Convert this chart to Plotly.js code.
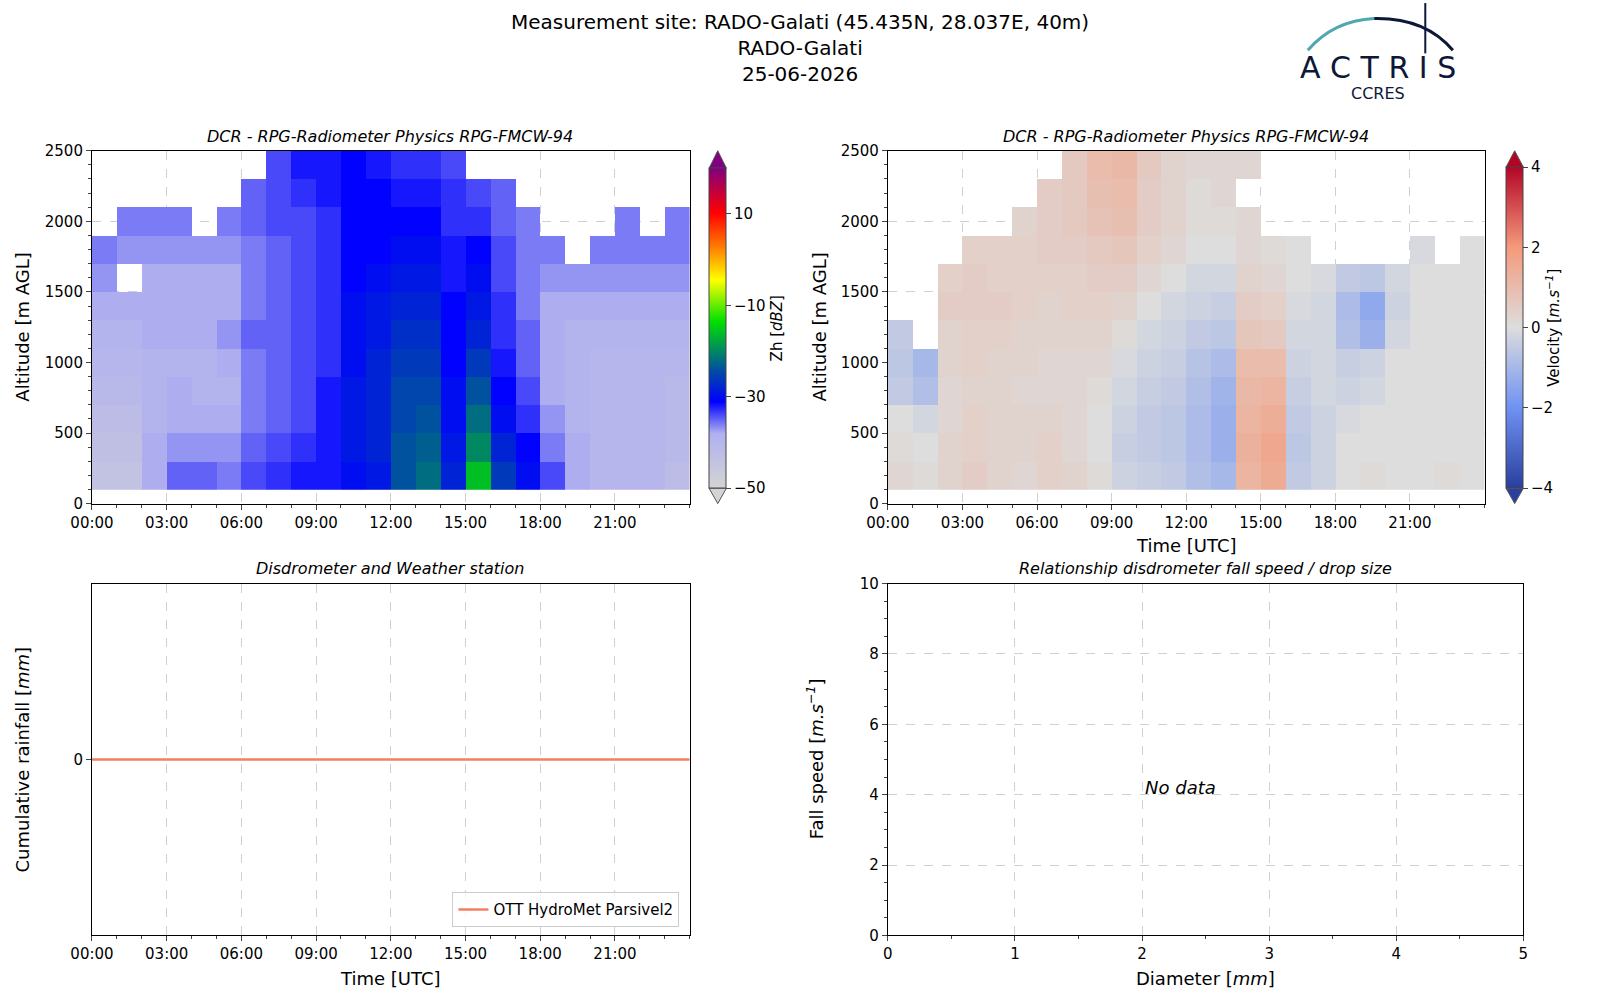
<!DOCTYPE html>
<html>
<head>
<meta charset="utf-8">
<script src="https://cdn.plot.ly/plotly-3.0.1.min.js"></script>
<style>body{margin:0;background:#fff}#plot{width:1600px;height:1000px}</style>
</head>
<body>
<div id="plot"></div>
<script>
// hours of day (cell centers) and altitude cell centers [m]
var hours = [0.5,1.5,2.5,3.5,4.5,5.5,6.5,7.5,8.5,9.5,10.5,11.5,12.5,13.5,14.5,15.5,16.5,17.5,18.5,19.5,20.5,21.5,22.5,23.5];
var heights = [200,400,600,800,1000,1200,1400,1600,1800,2000,2200,2400];
var timeTicks = [0,3,6,9,12,15,18,21];
var timeLabels = ['00:00','03:00','06:00','09:00','12:00','15:00','18:00','21:00'];

// reflectivity Zh [dBZ], one row per altitude (bottom to top)
var zh = [
 [-44,-44,-38,-35,-35,-36,-34,-33,-32,-32,-30,-29,-24,-22,-28,-16,-26,-30,-34,-38,-40,-40,-40,-42],
 [-43,-43,-38,-37,-37,-37,-35,-34,-33,-32,-29,-28,-24,-23,-29,-20,-28,-31,-36,-38,-40,-40,-40,-41],
 [-42,-42,-39,-38,-38,-38,-36,-35,-34,-32,-29,-28,-25,-24,-30,-22,-30,-33,-37,-39,-40,-40,-40,-41],
 [-41,-41,-39,-38,-39,-39,-36,-35,-34,-32,-29,-28,-25,-25,-30,-24,-31,-34,-38,-39,-40,-40,-40,-41],
 [-40,-40,-39,-39,-39,-38,-36,-35,-34,-33,-30,-28,-26,-26,-31,-26,-32,-35,-38,-39,-40,-40,-40,-40],
 [-39,-39,-38,-38,-38,-37,-35,-35,-34,-33,-30,-29,-27,-27,-31,-28,-33,-35,-38,-39,-39,-39,-39,-39],
 [-38,-38,-38,-38,-38,-38,-36,-35,-34,-33,-30,-29,-28,-28,-31,-29,-33,-36,-38,-38,-38,-38,-38,-38],
 [-37,null,-38,-38,-38,-38,-36,-35,-34,-33,-31,-30,-29,-29,-32,-30,-34,-36,-37,-37,-37,-37,-37,-37],
 [-36,-37,-37,-37,-37,-37,-36,-35,-34,-33,-31,-31,-30,-30,-32,-31,-34,-36,-36,null,-36,-36,-36,-36],
 [null,-36,-36,-36,null,-36,-35,-34,-34,-33,-31,-31,-31,-31,-33,-33,-35,-36,null,null,null,-36,null,-36],
 [null,null,null,null,null,null,-35,-34,-33,-32,-31,-31,-32,-32,-33,-34,-35,null,null,null,null,null,null,null],
 [null,null,null,null,null,null,null,-34,-32,-32,-31,-32,-33,-33,-34,null,null,null,null,null,null,null,null,null]
];

// Doppler velocity [m/s]
var vel = [
 [0.2,0.1,0.3,0.5,0.3,0.2,0.4,0.3,0.1,-0.3,-0.4,-0.5,-0.8,-1.0,1.2,1.5,-0.5,-0.3,0.0,0.1,0.0,0.0,0.1,0.0],
 [0.1,0.0,0.3,0.4,0.3,0.3,0.4,0.2,0.0,-0.4,-0.5,-0.6,-0.9,-1.2,1.3,1.6,-0.6,-0.3,0.0,0.0,0.0,0.0,0.0,0.0],
 [0.0,-0.2,0.2,0.4,0.3,0.3,0.3,0.2,0.0,-0.3,-0.5,-0.6,-0.9,-1.2,1.2,1.4,-0.5,-0.3,-0.1,0.0,0.0,0.0,0.0,0.0],
 [-0.5,-0.8,0.2,0.3,0.3,0.2,0.2,0.2,0.1,-0.2,-0.4,-0.5,-0.8,-1.1,1.1,1.2,-0.4,-0.2,-0.3,-0.2,0.0,0.0,0.0,0.0],
 [-0.6,-1.0,0.3,0.4,0.3,0.3,0.2,0.2,0.2,-0.1,-0.3,-0.4,-0.7,-0.9,1.0,1.0,-0.3,-0.2,-0.4,-0.3,0.0,0.0,0.0,0.0],
 [-0.5,null,0.3,0.4,0.4,0.3,0.3,0.3,0.3,0.1,-0.2,-0.3,-0.5,-0.6,0.7,0.6,-0.2,-0.2,-0.8,-1.2,-0.2,0.0,0.0,0.0],
 [null,null,0.5,0.5,0.5,0.4,0.3,0.4,0.4,0.3,0.0,-0.2,-0.3,-0.4,0.5,0.4,-0.1,-0.2,-0.9,-1.4,-0.3,0.0,0.0,0.0],
 [null,null,0.4,0.5,0.4,0.4,0.4,0.4,0.5,0.5,0.2,0.0,-0.2,-0.2,0.3,0.2,0.0,-0.1,-0.5,-0.6,-0.2,0.0,0.0,0.0],
 [null,null,null,0.4,0.4,0.4,0.5,0.5,0.6,0.7,0.4,0.2,0.0,0.0,0.2,0.1,0.0,null,null,null,null,-0.1,null,0.0],
 [null,null,null,null,null,0.3,0.5,0.6,0.8,0.9,0.5,0.3,0.1,0.1,0.2,null,null,null,null,null,null,null,null,null],
 [null,null,null,null,null,null,0.5,0.6,0.9,1.0,0.5,0.3,0.1,0.2,null,null,null,null,null,null,null,null,null,null],
 [null,null,null,null,null,null,null,0.6,1.0,1.1,0.6,0.3,0.2,0.2,0.2,null,null,null,null,null,null,null,null,null]
];

// cumulative rainfall (hourly)
var rainHours = [0,1,2,3,4,5,6,7,8,9,10,11,12,13,14,15,16,17,18,19,20,21,22,23,24];
var rainCum = [0,0,0,0,0,0,0,0,0,0,0,0,0,0,0,0,0,0,0,0,0,0,0,0,0];

var W = 1566, H = 975;
function px(x){ return x / W; }
function py(y){ return 1 - y / H; }

var font = 'DejaVu Sans, sans-serif';
var zhScale = [[0,'#d4d4d4'],[0.17,'#b0b0f0'],[0.27,'#0000ff'],[0.37,'#0050a0'],[0.52,'#00e000'],[0.65,'#ffff00'],[0.75,'#ff8000'],[0.86,'#ff0000'],[1,'#800080']];
var velScale = [[0,'#2a3f9f'],[0.25,'#6f92f3'],[0.5,'#dddddd'],[0.75,'#f49a7b'],[1,'#b40426']];

function cbar(x, top, bot, vals, texts, title){
  return {x:px(x), xanchor:'left', y:py(bot), yanchor:'bottom', len:(bot-top)/H, thickness:17,
    ypad:0, xpad:0, tickvals:vals, ticktext:texts, tickfont:{size:15}, ticks:'outside', outlinewidth:1,
    title:{text:title, side:'right', font:{size:15}}};
}

var data = [
  {type:'heatmap', x:hours, y:heights, z:zh, xaxis:'x', yaxis:'y', zmin:-50, zmax:20,
   colorscale:zhScale, hoverongaps:false,
   colorbar:cbar(694, 164, 476, [-50,-30,-10,10], ['\u221250','\u221230','\u221210','10'], 'Zh [<i>dBZ</i>]')},
  {type:'heatmap', x:hours, y:heights, z:vel, xaxis:'x2', yaxis:'y2', zmin:-4, zmax:4,
   colorscale:velScale, hoverongaps:false,
   colorbar:cbar(1474, 163, 476, [-4,-2,0,2,4], ['\u22124','\u22122','0','2','4'], 'Velocity [<i>m.s<sup>\u22121</sup></i>]')},
  {type:'scatter', mode:'lines', x:rainHours, y:rainCum, xaxis:'x3', yaxis:'y3',
   name:'OTT HydroMet Parsivel2', line:{color:'#f08060', width:2.5}},
  {type:'scatter', mode:'markers', x:[], y:[], xaxis:'x4', yaxis:'y4', showlegend:false}
];

var grid = {showgrid:true, gridcolor:'#d0d0d0', griddash:'dash', gridwidth:1, zeroline:false,
  showline:true, mirror:true, linecolor:'#000', linewidth:1, ticks:'outside', tickfont:{size:15}};
function timeAxis(dom, anchor){
  return Object.assign({}, grid, {domain:dom, anchor:anchor, range:[0,24], tickvals:timeTicks, ticktext:timeLabels,
    minor:{dtick:1, ticks:'outside', ticklen:3}});
}
var topY = [py(491), py(147)], botY = [py(912), py(569)];
var altAxis = function(anchor){
  return Object.assign({}, grid, {domain:topY, anchor:anchor, range:[0,2500], dtick:500,
    minor:{dtick:100, ticks:'outside', ticklen:3}});
};

function label(x, y, text, size, opts){
  return Object.assign({xref:'paper', yref:'paper', x:px(x), y:py(y), xanchor:'center', yanchor:'middle',
    showarrow:false, text:text, font:{size:size}}, opts || {});
}

var navy = '#0d1838';
var layout = {
  width:1600, height:1000, paper_bgcolor:'#fff', plot_bgcolor:'#fff',
  font:{family:font, color:'#000'}, margin:{l:0,r:0,t:0,b:0},
  xaxis: timeAxis([px(90),px(675)], 'y'),
  yaxis: altAxis('x'),
  xaxis2: timeAxis([px(869),px(1453)], 'y2'),
  yaxis2: altAxis('x2'),
  xaxis3: timeAxis([px(90),px(675)], 'y3'),
  yaxis3: Object.assign({}, grid, {domain:botY, anchor:'x3', range:[-0.05,0.05], tickvals:[0]}),
  xaxis4: Object.assign({}, grid, {domain:[px(869),px(1491)], anchor:'y4', range:[0,5], dtick:1,
    minor:{dtick:0.5, ticks:'outside', ticklen:3}}),
  yaxis4: Object.assign({}, grid, {domain:botY, anchor:'x4', range:[0,10], dtick:2,
    minor:{dtick:0.5, ticks:'outside', ticklen:3}}),
  showlegend:true,
  legend:{x:px(665), y:py(904), xanchor:'right', yanchor:'bottom', bordercolor:'#ccc', borderwidth:1,
    bgcolor:'rgba(255,255,255,0.8)', font:{size:15}},
  annotations:[
    label(783, 8, 'Measurement site: RADO-Galati (45.435N, 28.037E, 40m)<br>RADO-Galati<br>25-06-2026', 20, {yanchor:'top'}),
    label(382, 133, '<i>DCR - RPG-Radiometer Physics RPG-FMCW-94</i>', 16),
    label(1161, 133, '<i>DCR - RPG-Radiometer Physics RPG-FMCW-94</i>', 16),
    label(382, 554, '<i>Disdrometer and Weather station</i>', 16),
    label(1180, 554, '<i>Relationship disdrometer fall speed / drop size</i>', 16),
    label(22, 319, 'Altitude [m AGL]', 18, {textangle:-90}),
    label(802, 319, 'Altitude [m AGL]', 18, {textangle:-90}),
    label(1161, 532, 'Time [UTC]', 18),
    label(22, 740, 'Cumulative rainfall [<i>mm</i>]', 18, {textangle:-90}),
    label(382, 954, 'Time [UTC]', 18),
    label(798, 740, 'Fall speed [<i>m.s<sup>\u22121</sup></i>]', 18, {textangle:-90}),
    label(1180, 954, 'Diameter [<i>mm</i>]', 18),
    {xref:'x4', yref:'y4', x:2.3, y:4.2, showarrow:false, text:'<i>No data</i>', font:{size:18}},
    label(1349, 66, 'A C T R I S', 30, {font:{size:30, color:navy}}),
    label(1349, 91, 'CCRES', 16, {font:{size:16, color:navy}})
  ],
  shapes:[
    {type:'path', xref:'paper', yref:'paper', line:{color:'#4fa8b0', width:3},
     path:'M '+px(1280)+','+py(49)+' Q '+px(1305)+','+py(20)+' '+px(1345)+','+py(18)},
    {type:'path', xref:'paper', yref:'paper', line:{color:navy, width:3},
     path:'M '+px(1345)+','+py(18)+' Q '+px(1395)+','+py(17)+' '+px(1422)+','+py(49)},
    {type:'line', xref:'paper', yref:'paper', x0:px(1395), x1:px(1395), y0:py(3), y1:py(52),
     line:{color:navy, width:2}},
    // colorbar extension triangles
    {type:'path', xref:'paper', yref:'paper', fillcolor:'#800080', line:{color:'#555', width:1},
     path:'M '+px(694)+','+py(164)+' L '+px(702.5)+','+py(147)+' L '+px(711)+','+py(164)+' Z'},
    {type:'path', xref:'paper', yref:'paper', fillcolor:'#d4d4d4', line:{color:'#555', width:1},
     path:'M '+px(694)+','+py(476)+' L '+px(702.5)+','+py(491)+' L '+px(711)+','+py(476)+' Z'},
    {type:'path', xref:'paper', yref:'paper', fillcolor:'#b40426', line:{color:'#555', width:1},
     path:'M '+px(1474)+','+py(163)+' L '+px(1482.5)+','+py(147)+' L '+px(1491)+','+py(163)+' Z'},
    {type:'path', xref:'paper', yref:'paper', fillcolor:'#2a3f9f', line:{color:'#555', width:1},
     path:'M '+px(1474)+','+py(476)+' L '+px(1482.5)+','+py(491)+' L '+px(1491)+','+py(476)+' Z'}
  ]
};

Plotly.newPlot('plot', data, layout, {displayModeBar:false});
</script>
</body>
</html>
